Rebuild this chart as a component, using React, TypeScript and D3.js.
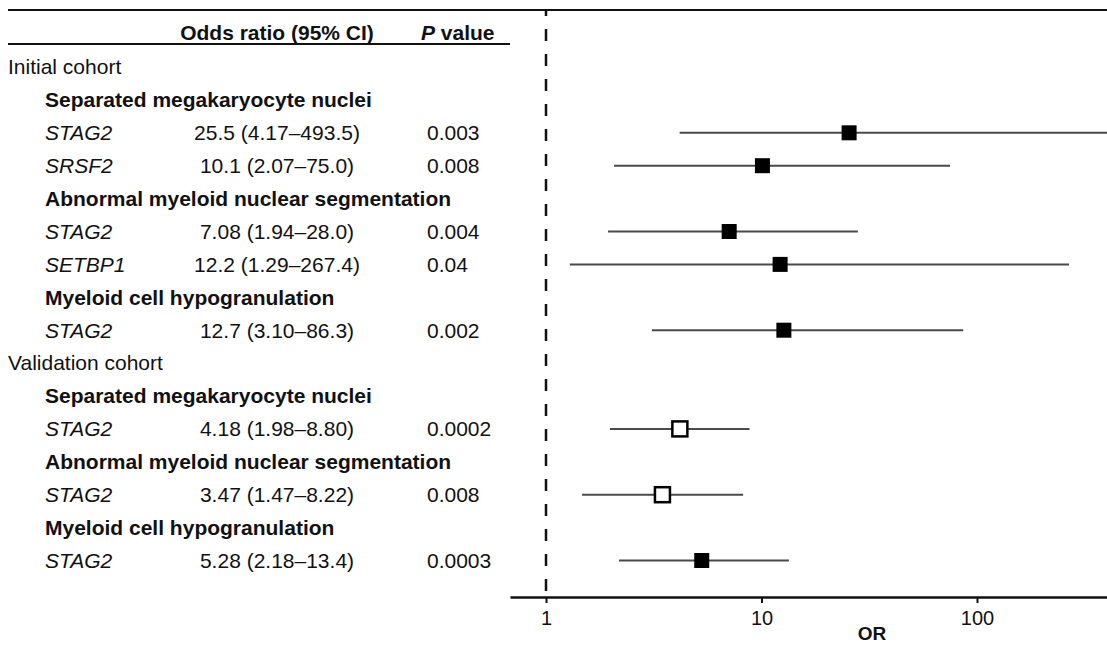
import React, { useEffect, useRef } from "react";
import * as d3 from "d3";

// table rows, top to bottom
const rowLabels = [
  "Initial cohort",
  "Separated megakaryocyte nuclei",
  "STAG2",
  "SRSF2",
  "Abnormal myeloid nuclear segmentation",
  "STAG2",
  "SETBP1",
  "Myeloid cell hypogranulation",
  "STAG2",
  "Validation cohort",
  "Separated megakaryocyte nuclei",
  "STAG2",
  "Abnormal myeloid nuclear segmentation",
  "STAG2",
  "Myeloid cell hypogranulation",
  "STAG2",
];
const rowKinds = [
  "cohort", "feature", "gene", "gene", "feature", "gene", "gene", "feature", "gene",
  "cohort", "feature", "gene", "feature", "gene", "feature", "gene",
];

// estimates for the gene rows
const geneRows = [2, 3, 5, 6, 8, 11, 13, 15];
const oddsRatio = [25.5, 10.1, 7.08, 12.2, 12.7, 4.18, 3.47, 5.28];
const ciLow = [4.17, 2.07, 1.94, 1.29, 3.1, 1.98, 1.47, 2.18];
const ciHigh = [493.5, 75.0, 28.0, 267.4, 86.3, 8.8, 8.22, 13.4];
const orLabels = [
  "25.5 (4.17–493.5)",
  "10.1 (2.07–75.0)",
  "7.08 (1.94–28.0)",
  "12.2 (1.29–267.4)",
  "12.7 (3.10–86.3)",
  "4.18 (1.98–8.80)",
  "3.47 (1.47–8.22)",
  "5.28 (2.18–13.4)",
];
const pLabels = ["0.003", "0.008", "0.004", "0.04", "0.002", "0.0002", "0.008", "0.0003"];
const filled = [true, true, true, true, true, false, false, true];
const tickValues = [1, 10, 100];

const W = 1107;
const H = 645;
const FONT = "'Liberation Sans', Arial, sans-serif";

export default function App() {
  const ref = useRef<SVGSVGElement>(null);

  useEffect(() => {
    const svg = d3.select(ref.current);
    svg.selectAll("*").remove();

    const ref1 = d3.scaleLog().domain([1, 100]).range([546, 977]);
    const x = d3
      .scaleLog()
      .domain([ref1.invert(510), ref1.invert(W)])
      .range([510, W]);
    const y = d3.scaleLinear().domain([0, 15]).range([67, 560.5]);
    const axisY = 597;

    const g = svg.append("g").attr("font-family", FONT).attr("fill", "#111");

    // rules
    g.append("line").attr("x1", 8).attr("x2", W).attr("y1", 10).attr("y2", 10)
      .attr("stroke", "#111").attr("stroke-width", 2);
    g.append("line").attr("x1", 8).attr("x2", 510).attr("y1", 44).attr("y2", 44)
      .attr("stroke", "#111").attr("stroke-width", 2);

    // header
    g.append("text").attr("x", 277).attr("y", 40).attr("text-anchor", "middle")
      .attr("font-size", 21).attr("font-weight", "bold").text("Odds ratio (95% CI)");
    const ph = g.append("text").attr("x", 421).attr("y", 40)
      .attr("font-size", 21).attr("font-weight", "bold");
    ph.append("tspan").attr("font-style", "italic").text("P");
    ph.append("tspan").text(" value");

    // row labels
    g.selectAll("text.row")
      .data(rowLabels)
      .join("text")
      .attr("class", "row")
      .attr("x", (d, i) => (rowKinds[i] === "cohort" ? 8 : 45))
      .attr("y", (d, i) => y(i))
      .attr("dy", "0.35em")
      .attr("font-size", 21)
      .attr("font-weight", (d, i) => (rowKinds[i] === "feature" ? "bold" : "normal"))
      .attr("font-style", (d, i) => (rowKinds[i] === "gene" ? "italic" : "normal"))
      .text((d) => d);

    g.selectAll("text.or")
      .data(orLabels)
      .join("text")
      .attr("class", "or")
      .attr("x", 277)
      .attr("y", (d, i) => y(geneRows[i]))
      .attr("dy", "0.35em")
      .attr("text-anchor", "middle")
      .attr("font-size", 21)
      .text((d) => d);

    g.selectAll("text.p")
      .data(pLabels)
      .join("text")
      .attr("class", "p")
      .attr("x", 427)
      .attr("y", (d, i) => y(geneRows[i]))
      .attr("dy", "0.35em")
      .attr("font-size", 21)
      .text((d) => d);

    // reference line at OR = 1
    g.append("line")
      .attr("x1", x(1)).attr("x2", x(1)).attr("y1", 10).attr("y2", axisY)
      .attr("stroke", "#111").attr("stroke-width", 2.5)
      .attr("stroke-dasharray", "12 13").attr("stroke-dashoffset", 6);

    // confidence intervals
    g.selectAll("line.ci")
      .data(geneRows)
      .join("line")
      .attr("class", "ci")
      .attr("x1", (d, i) => x(ciLow[i]))
      .attr("x2", (d, i) => x(ciHigh[i]))
      .attr("y1", (d) => y(d))
      .attr("y2", (d) => y(d))
      .attr("stroke", "#4a4a4a")
      .attr("stroke-width", 2);

    const s = 15;
    g.selectAll("rect.pt")
      .data(geneRows)
      .join("rect")
      .attr("class", "pt")
      .attr("x", (d, i) => x(oddsRatio[i]) - s / 2)
      .attr("y", (d) => y(d) - s / 2)
      .attr("width", s)
      .attr("height", s)
      .attr("fill", (d, i) => (filled[i] ? "#000" : "#fff"))
      .attr("stroke", "#000")
      .attr("stroke-width", (d, i) => (filled[i] ? 0 : 2.5));

    // axis
    const axis = d3
      .axisBottom(x)
      .tickValues(tickValues)
      .tickFormat((d) => String(d))
      .tickSize(6)
      .tickSizeOuter(0);
    const ax = g.append("g").attr("transform", `translate(0,${axisY})`).call(axis);
    ax.select(".domain").attr("stroke", "#111").attr("stroke-width", 2.5);
    ax.selectAll(".tick line").attr("stroke", "#111").attr("stroke-width", 2);
    ax.selectAll(".tick text")
      .attr("font-family", FONT)
      .attr("font-size", 20)
      .attr("fill", "#111")
      .attr("y", 14);

    g.append("text").attr("x", 872).attr("y", 640).attr("text-anchor", "middle")
      .attr("font-size", 19).attr("font-weight", "bold").text("OR");
  }, []);

  return (
    <svg
      ref={ref}
      width={W}
      height={H}
      style={{ position: "absolute", left: 0, top: 0, background: "#fff" }}
    />
  );
}
